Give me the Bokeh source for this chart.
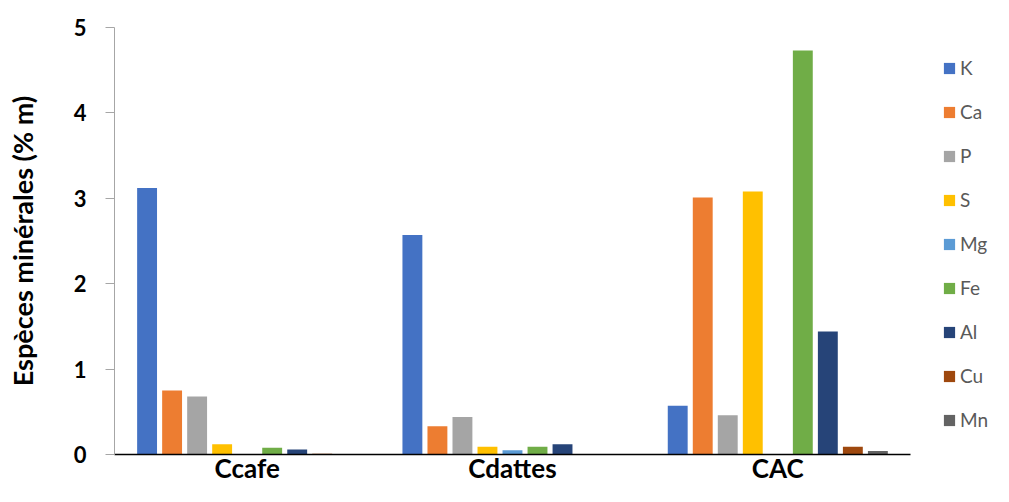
from bokeh.plotting import figure
from bokeh.models import ColumnDataSource, Range1d, Legend, LegendItem, FixedTicker
from bokeh.transform import dodge
from bokeh.embed import file_html
from bokeh.resources import INLINE

categories = ["Ccafe", "Cdattes", "CAC"]
elements = ["K", "Ca", "P", "S", "Mg", "Fe", "Al", "Cu", "Mn"]
K = [3.12, 2.57, 0.57]
Ca = [0.75, 0.33, 3.01]
P = [0.68, 0.44, 0.46]
S = [0.12, 0.09, 3.08]
Mg = [0.0, 0.05, 0.0]
Fe = [0.08, 0.09, 4.73]
Al = [0.06, 0.12, 1.44]
Cu = [0.01, 0.005, 0.09]
Mn = [0.0, 0.0, 0.04]
colors = ["#4472C4", "#ED7D31", "#A5A5A5", "#FFC000", "#5B9BD5",
          "#70AD47", "#264478", "#9E480E", "#636363"]

series = [K, Ca, P, S, Mg, Fe, Al, Cu, Mn]
centers = [i + 0.5 for i in range(len(categories))]
data = {"cat": categories, "xc": centers}
for name, vals in zip(elements, series):
    data[name] = vals
source = ColumnDataSource(data)

FONT = "Lato"

p = figure(width=993, height=486, output_backend="svg", toolbar_location=None,
           x_range=Range1d(0, 3.313), y_range=Range1d(0, 5),
           min_border_left=114, min_border_right=0, min_border_top=27,
           min_border_bottom=32)
p.outline_line_color = None
p.xgrid.grid_line_color = None
p.ygrid.grid_line_color = None
p.background_fill_color = "white"
p.border_fill_color = "white"

pitch = 0.0943
bw = 0.075
renderers = []
for i, (name, col) in enumerate(zip(elements, colors)):
    r = p.vbar(x=dodge("xc", (i - 4) * pitch), top=name,
               width=bw, bottom=0, source=source, fill_color=col, line_color=None)
    renderers.append(r)

# y axis
p.yaxis.ticker = [0, 1, 2, 3, 4, 5]
p.yaxis.axis_line_color = "#A6A6A6"
p.yaxis.major_tick_line_color = "#A6A6A6"
p.yaxis.major_tick_out = 9
p.yaxis.major_tick_in = 0
p.yaxis.minor_tick_line_color = None
p.yaxis.major_label_text_font = FONT
p.yaxis.major_label_text_font_style = "bold"
p.yaxis.major_label_text_font_size = "22px"
p.yaxis.major_label_text_color = "black"
p.yaxis.major_label_standoff = 19
p.yaxis.axis_label = "Espèces minérales (% m)"
p.yaxis.axis_label_text_font = FONT
p.yaxis.axis_label_text_font_style = "bold"
p.yaxis.axis_label_text_font_size = "27px"
p.yaxis.axis_label_text_color = "black"
p.yaxis.axis_label_standoff = 32

# x axis
p.xaxis.ticker = FixedTicker(ticks=centers)
p.xaxis.major_label_overrides = {c: lab for c, lab in zip(centers, categories)}
p.xaxis.bounds = (0, len(categories))
p.xaxis.axis_line_color = "black"
p.xaxis.axis_line_width = 1.5
p.xaxis.major_tick_line_color = None
p.xaxis.minor_tick_line_color = None
p.xaxis.major_label_text_font = FONT
p.xaxis.major_label_text_font_style = "bold"
p.xaxis.major_label_text_font_size = "26px"
p.xaxis.major_label_text_color = "black"
p.xaxis.major_label_standoff = -9

items = [LegendItem(label=n, renderers=[r]) for n, r in zip(elements, renderers)]
legend = Legend(items=items, location=(828, 23), orientation="vertical",
                glyph_width=14, glyph_height=14, label_height=23,
                label_standoff=4, spacing=21, padding=0, margin=0,
                border_line_color=None, background_fill_alpha=0,
                label_text_font=FONT, label_text_font_size="19px",
                label_text_color="#595959")
p.add_layout(legend, "center")

open("out.html", "w").write(file_html(p, INLINE))
